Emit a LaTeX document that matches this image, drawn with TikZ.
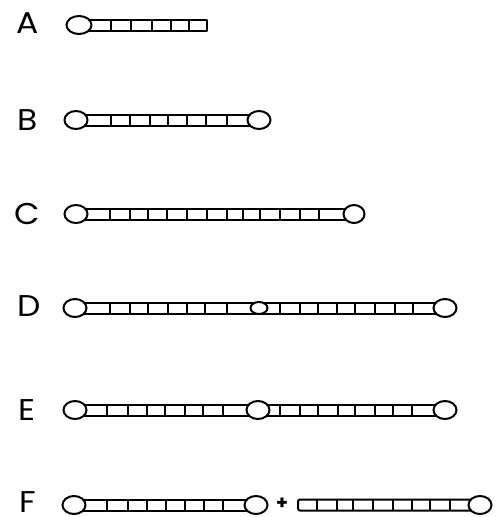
\documentclass[tikz,border=0pt]{standalone}
\usepackage{fontspec}
\setmainfont{Poppins}
\usetikzlibrary{shapes.geometric}
\tikzset{
  strand/.style={line width=2pt, line join=round},
  bead/.style={ellipse, draw, fill=white, line width=2pt, inner sep=0pt,
    minimum width=23pt, minimum height=18pt},
  smallbead/.style={bead, minimum width=17pt, minimum height=12pt},
  lbl/.style={font=\fontsize{30}{31}\selectfont, inner sep=0pt, xscale=1.1},
  plus/.style={font=\fontsize{19}{20}\selectfont\bfseries, inner sep=0pt}
}
\newcommand\chainstrip[4]{%
  \draw[strand] (#2,#1-5.5) rectangle (#3,#1+5.5);
  \foreach \d in {#4} \draw[strand] (\d,#1-5.5) -- (\d,#1+5.5);
}
\begin{document}
\begin{tikzpicture}[x=1pt,y=-1pt]
\useasboundingbox (0,0) rectangle (499,517);
% labels
\node[lbl] (lA) at (28,23) {A};
\node[lbl] (lB) at (28,120) {B};
\node[lbl] (lC) at (27,214) {C};
\node[lbl] (lD) at (29,306) {D};
\node[lbl] (lE) at (27,410) {E};
\node[lbl] (lF) at (28,502) {F};
% A
\chainstrip{25}{79}{207}{111,131,152,171,189}
\node[bead, minimum width=25pt] (a1) at (79,25) {};
% B
\chainstrip{120}{76}{259}{111,130,150,168,187,206,227}
\node[bead] (b1) at (76,120) {};
\node[bead] (b2) at (259,120) {};
% C
\chainstrip{214}{76}{354}{110,130,148,167,187,207,227,243,260,280,300,319}
\node[bead] (c1) at (76,214) {};
\node[bead, minimum width=21pt] (c2) at (354,214) {};
% D
\chainstrip{308}{75}{445}{110,130,148,168,187,205,227,280,300,318,337,355,375,395,413}
\node[bead] (d1) at (75,308) {};
\node[smallbead] (d2) at (259,308) {};
\node[bead] (d3) at (445,308) {};
% E
\chainstrip{410}{75}{445}{107,128,147,165,185,203,223,280,300,318,338,355,375,393,412}
\node[bead] (e1) at (75,410) {};
\node[bead] (e2) at (258,410) {};
\node[bead] (e3) at (445,410) {};
% F
\chainstrip{505}{74}{256}{107,128,147,166,185,204,223}
\node[bead] (f1) at (74,505) {};
\node[bead] (f2) at (256,505) {};
\node[plus] (fp) at (282,504) {+};
\draw[strand, rounded corners=2pt] (480,499.5) -- (298,499.5) -- (298,510.5) -- (480,510.5);
\foreach \d in {317,337,353,373,393,412,430,450} \draw[strand] (\d,499.5) -- (\d,510.5);
\node[bead] (f3) at (480,505) {};
\end{tikzpicture}
\end{document}
